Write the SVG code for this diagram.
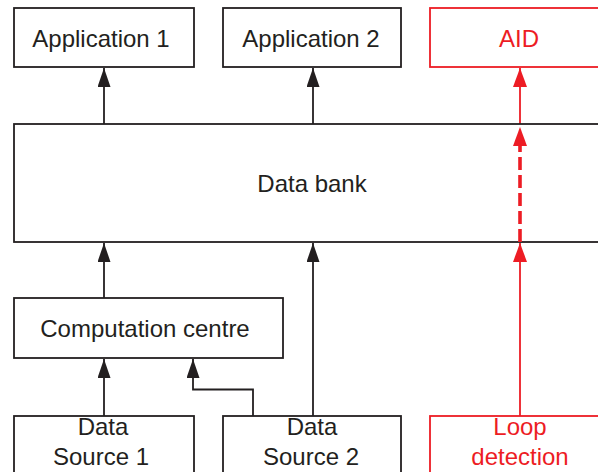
<svg xmlns="http://www.w3.org/2000/svg" width="598" height="472" viewBox="0 0 598 472">
<style>
.box{fill:#fff;stroke:#231f20;stroke-width:1.8}
.rbox{fill:#fff;stroke:#ed1c24;stroke-width:1.8}
text{font-family:"Liberation Sans",Arial,sans-serif;font-size:24px;text-anchor:middle;fill:#231f20}
.rt{fill:#ed1c24}
.ln{fill:none;stroke:#231f20;stroke-width:1.8}
.rl{fill:none;stroke:#ed1c24;stroke-width:1.8}
.rd{fill:none;stroke:#ed1c24;stroke-width:3.6;stroke-dasharray:13 5}
</style>
<defs>
<marker id="ab" viewBox="0 0 19 13" refX="19" refY="6.5" markerWidth="19" markerHeight="13" markerUnits="userSpaceOnUse" orient="auto"><path d="M0,0 L19,6.5 L0,13 Z" fill="#231f20"/></marker>
<marker id="ar" viewBox="0 0 19 14" refX="19" refY="7" markerWidth="19" markerHeight="14" markerUnits="userSpaceOnUse" orient="auto"><path d="M0,0 L19,7 L0,14 Z" fill="#ed1c24"/></marker>
<marker id="ar0" viewBox="0 0 19 14" refX="0" refY="7" markerWidth="19" markerHeight="14" markerUnits="userSpaceOnUse" orient="auto"><path d="M0,0 L19,7 L0,14 Z" fill="#ed1c24"/></marker>
</defs>
<g id="connectors">
<path class="ln" d="M104,124 V68" marker-end="url(#ab)"/>
<path class="ln" d="M313,124 V68" marker-end="url(#ab)"/>
<path class="rl" d="M520,124 V68" marker-end="url(#ar)"/>
<path class="ln" d="M104,298 V243" marker-end="url(#ab)"/>
<path class="ln" d="M313,416 V243" marker-end="url(#ab)"/>
<path class="rl" d="M520,416 V243" marker-end="url(#ar)"/>
<path class="ln" d="M104,416 V359" marker-end="url(#ab)"/>
<path class="ln" d="M253,416 V389.5 H193 V359" marker-end="url(#ab)"/>
</g>
<g id="application1"><rect class="box" x="14" y="8" width="180" height="59"/><text x="101" y="47">Application 1</text></g>
<g id="application2"><rect class="box" x="223" y="8" width="178" height="59"/><text x="311" y="47">Application 2</text></g>
<g id="aid"><rect class="rbox" x="430" y="8" width="180" height="59"/><text class="rt" x="519" y="47">AID</text></g>
<g id="databank"><rect class="box" x="14" y="124" width="600" height="118"/><text x="312" y="192">Data bank</text></g>
<g id="aid-link"><path class="rd" d="M520,242 V146" marker-end="url(#ar0)"/></g>
<g id="computation"><rect class="box" x="14" y="298" width="269" height="60"/><text x="145" y="337">Computation centre</text></g>
<g id="source1"><rect class="box" x="14" y="416" width="180" height="70"/><text x="103" y="435">Data</text><text x="101" y="465">Source 1</text></g>
<g id="source2"><rect class="box" x="223" y="416" width="178" height="70"/><text x="312" y="435">Data</text><text x="311" y="465">Source 2</text></g>
<g id="loop"><rect class="rbox" x="430" y="416" width="180" height="70"/><text class="rt" x="520" y="435">Loop</text><text class="rt" x="520" y="465">detection</text></g>
</svg>
